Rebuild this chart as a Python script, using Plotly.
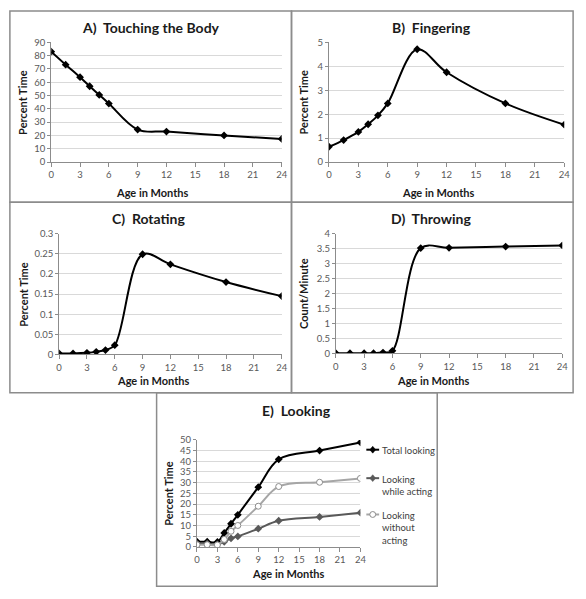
import plotly.graph_objects as go

W, H = 586, 599

# ---------------- data ----------------
ages = [0, 1.5, 3, 4, 5, 6, 9, 12, 18, 24]
touching = [83, 73.2, 63.8, 57, 50.5, 44, 24.4, 22.9, 20, 17.4]
fingering = [0.64, 0.92, 1.26, 1.58, 1.95, 2.45, 4.71, 3.75, 2.45, 1.56]
rotating = [0.0025, 0.0025, 0.004, 0.0065, 0.011, 0.023, 0.249, 0.224, 0.18, 0.145]
throwing = [0.01, 0.01, 0.01, 0.01, 0.03, 0.09, 3.52, 3.53, 3.57, 3.61]
total_looking = [2.4, 2.4, 2.3, 6.5, 10.8, 15, 27.9, 40.9, 45, 48.8]
looking_while_acting = [1.5, 1.5, 1.2, 2.4, 4.0, 4.9, 8.5, 12.2, 14, 16]
looking_without_acting = [1.0, 1.0, 0.9, 3.5, 7.3, 10, 19, 28.2, 30.2, 32]

x_ticks = [0, 3, 6, 9, 12, 15, 18, 21, 24]
legend_labels = ["Total looking", "Looking<br>while acting", "Looking<br>without<br>acting"]

panels = [
    dict(title="A)  Touching the Body", ytitle="Percent Time", y=touching, yr=[0, 90], dt=10,
         box=(49, 283, 37, 159), tpos=(150, 22), ytx=20, xtpos=(152, 190)),
    dict(title="B)  Fingering", ytitle="Percent Time", y=fingering, yr=[0, 5], dt=1,
         box=(331, 570, 37, 159), tpos=(435, 22), ytx=305, xtpos=(442, 190)),
    dict(title="C)  Rotating", ytitle="Percent Time", y=rotating, yr=[0, 0.3], dt=0.05,
         box=(57, 283, 232, 355), tpos=(148, 216), ytx=20, xtpos=(153, 382)),
    dict(title="D)  Throwing", ytitle="Count/Minute", y=throwing, yr=[0, 4], dt=0.5,
         box=(338, 568, 232, 354), tpos=(435, 216), ytx=305, xtpos=(437, 382)),
]
panelE = dict(title="E)  Looking", ytitle="Percent Time", yr=[0, 50], dt=5,
              box=(197, 363, 442, 551), tpos=(298, 412), ytx=168, xtpos=(290, 578))


def px(x):
    return x / W


def py(y):
    return 1 - y / H


FONT = "Lato, 'Open Sans', sans-serif"
TICKSIZE = 9.5
fig = go.Figure()
layout = dict(width=W, height=H, margin=dict(l=0, r=0, t=0, b=0),
              paper_bgcolor="white", plot_bgcolor="white", showlegend=False,
              font=dict(family=FONT, size=9, color="#595959"))
annotations = []
shapes = []


def ann(text, x, y, size, angle=0, xanchor="center", yanchor="middle", color="#1a1a1a"):
    return dict(text=text, x=px(x), y=py(y), xref="paper", yref="paper", showarrow=False,
                xanchor=xanchor, yanchor=yanchor, textangle=angle, align="left",
                font=dict(size=size, color=color, family=FONT))


all_panels = panels + [panelE]
for i, p in enumerate(all_panels, start=1):
    x0, x1, yt, yb = p["box"]
    xa = "xaxis" if i == 1 else f"xaxis{i}"
    ya = "yaxis" if i == 1 else f"yaxis{i}"
    layout[xa] = dict(domain=[px(x0), px(x1)], range=[0, 24], tickvals=x_ticks,
                      anchor=f"y{i}" if i > 1 else "y", showgrid=False,
                      showline=True, linecolor="#8c8c8c", linewidth=1,
                      ticks="outside", ticklen=4, tickcolor="#8c8c8c",
                      tickfont=dict(size=TICKSIZE, color="#595959"), zeroline=False,
                      fixedrange=True)
    layout[ya] = dict(domain=[py(yb), py(yt)], range=p["yr"], dtick=p["dt"],
                      anchor=f"x{i}" if i > 1 else "x", showgrid=True,
                      gridcolor="#d9d9d9", gridwidth=1,
                      showline=True, linecolor="#8c8c8c", linewidth=1,
                      ticks="outside", ticklen=3, tickcolor="#8c8c8c",
                      tickfont=dict(size=TICKSIZE, color="#595959"), zeroline=False,
                      fixedrange=True)
    annotations.append(ann(f"<b>{p['title']}</b>", p["tpos"][0], p["tpos"][1], 14))
    annotations.append(ann(f"<b>{p['ytitle']}</b>", p["ytx"], (yt + yb) / 2, 11, -90))
    annotations.append(ann("<b>Age in Months</b>", p["xtpos"][0], p["xtpos"][1], 11))

for i, p in enumerate(panels, start=1):
    fig.add_trace(go.Scatter(x=ages, y=p["y"], mode="lines+markers",
                             line=dict(color="black", width=2, shape="spline", smoothing=1),
                             marker=dict(symbol="diamond", size=6, color="black"),
                             xaxis="x" if i == 1 else f"x{i}", yaxis="y" if i == 1 else f"y{i}",
                             showlegend=False))

# Panel E series
e_colors = ["black", "#595959", "#a6a6a6"]
e_series = [
    (legend_labels[0], total_looking, e_colors[0], dict(symbol="diamond", size=6, color="black")),
    (legend_labels[1], looking_while_acting, e_colors[1],
     dict(symbol="diamond", size=6, color="#595959")),
    (legend_labels[2], looking_without_acting, e_colors[2],
     dict(symbol="circle", size=6, color="white", line=dict(color="#8c8c8c", width=1))),
]
for k, (name, ys, col, mk) in enumerate(e_series):
    fig.add_trace(go.Scatter(x=ages, y=ys, mode="lines+markers", name=name.replace("<br>", " "),
                             line=dict(color=col, width=2, shape="spline", smoothing=1),
                             marker=mk, xaxis="x5", yaxis="y5", showlegend=False))

# legend for panel E (glyphs + text), placed like the Excel legend
leg_rows = [452, 481, 518]
for k, yrow in enumerate(leg_rows):
    col = e_colors[k]
    shapes.append(dict(type="line", xref="paper", yref="paper", x0=px(369), x1=px(382),
                       y0=py(yrow), y1=py(yrow), line=dict(color=col, width=2)))
    cx, cy, r = 375.5, yrow, 3
    if k < 2:
        path = (f"M {px(cx)} {py(cy - r - 0.5)} L {px(cx + r)} {py(cy)} "
                f"L {px(cx)} {py(cy + r + 0.5)} L {px(cx - r)} {py(cy)} Z")
        shapes.append(dict(type="path", xref="paper", yref="paper", path=path,
                           fillcolor=col, line=dict(color=col, width=0.5)))
    else:
        shapes.append(dict(type="circle", xref="paper", yref="paper",
                           x0=px(cx - r), x1=px(cx + r), y0=py(cy + r), y1=py(cy - r),
                           fillcolor="white", line=dict(color="#8c8c8c", width=1)))
    annotations.append(ann(legend_labels[k], 383, yrow - 6.5, 9.5, xanchor="left",
                           yanchor="top", color="#404040"))

# panel frames
frames = [(7, 293, 5, 200), (293, 579, 5, 200), (7, 293, 200, 394), (293, 579, 200, 394),
          (156, 441, 394, 591)]
for (a, b, c, d) in frames:
    shapes.append(dict(type="rect", xref="paper", yref="paper", x0=px(a), x1=px(b),
                       y0=py(d), y1=py(c), line=dict(color="#8c8c8c", width=1.5),
                       fillcolor="rgba(0,0,0,0)", layer="below"))

layout["annotations"] = annotations
layout["shapes"] = shapes
fig.update_layout(**layout)
fig.write_html("out.html", config={"displayModeBar": False},
               post_script="document.body.style.margin='0';document.body.style.overflow='hidden';")
